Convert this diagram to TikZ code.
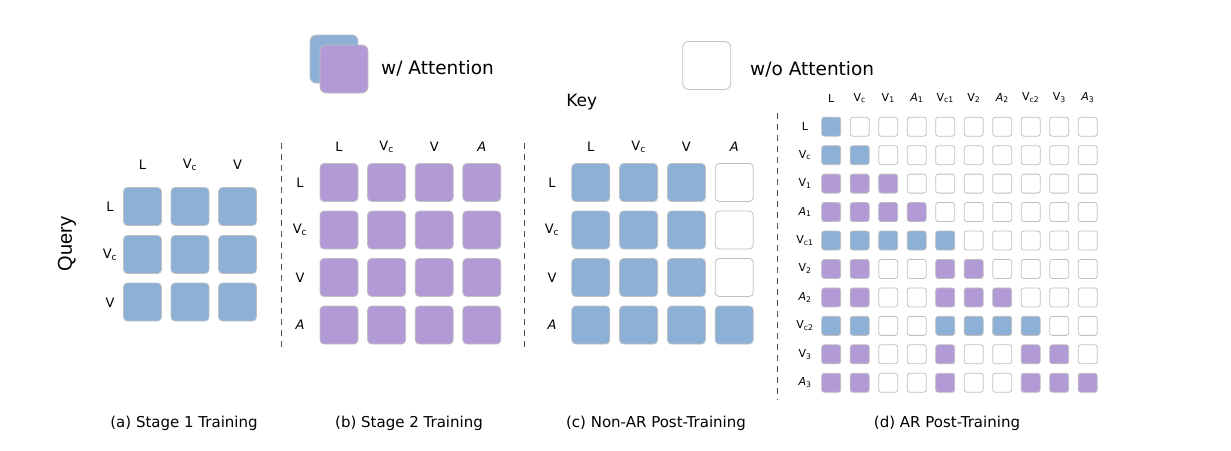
\documentclass[tikz,border=0pt]{standalone}
\usepackage{fontspec}
\setmainfont{DejaVu Sans}
\newfontfamily\queryfont{Liberation Sans}
\definecolor{attblue}{RGB}{141,176,214}
\definecolor{attpurple}{RGB}{178,154,214}
\definecolor{cellgray}{RGB}{192,192,192}
\tikzset{
  cell/.style={rectangle, rounded corners=4pt, draw=cellgray, line width=0.8pt,
    minimum size=38pt, inner sep=0pt},
  cellb/.style={cell, fill=attblue},
  cellp/.style={cell, fill=attpurple},
  cellw/.style={cell, fill=white},
  dcell/.style={minimum size=19pt, rounded corners=2.5pt},
  keybox/.style={cell, minimum size=48pt, rounded corners=6pt},
  lab/.style={font=\fontsize{13}{15}\selectfont, inner sep=0pt},
  slab/.style={font=\fontsize{11}{13}\selectfont, inner sep=0pt},
  legendtext/.style={font=\fontsize{18.5}{22}\selectfont, inner sep=0pt, anchor=west},
  captiontext/.style={font=\fontsize{15}{18}\selectfont, inner sep=0pt},
  sep/.style={draw=black!70, dash pattern=on 6pt off 5pt, line width=0.8pt}
}
\begin{document}
\begin{tikzpicture}[x=1pt, y=-1pt]
        \useasboundingbox (0,0) rectangle (1231,450);

        \node[keybox, fill=attblue]   (keyblue)   at (334,59)    {};
        \node[keybox, fill=attpurple] (keypurple) at (344,69)    {};
        \node[keybox, fill=white]     (keywhite)  at (706.7,65.5) {};
        \node[legendtext] (withatt) at (381,68) {w/ Attention};
        \node[legendtext] (noatt)   at (750,69) {w/o Attention};
        \node[font=\fontsize{17}{20}\selectfont, inner sep=0pt] (key) at (581.7,101.7) {Key};
        \node[font=\queryfont\fontsize{20}{24}\selectfont, rotate=90, inner sep=0pt] (query) at (67,244) {Query};

        \begin{scope}
          \foreach \y [count=\i] in {206.5,254.5,302}
            \foreach \x [count=\j] in {142.5,190,237.5}
              \node[cellb] (a-\i-\j) at (\x,\y) {};
          \foreach \t [count=\j] in {L, V\textsubscript{c}, V}
            \node[lab] (a-col-\j) at ({142.5+47.5*(\j-1)},165) {\t};
          \foreach \t [count=\i] in {L, V\textsubscript{c}, V}
            \node[lab] (a-row-\i) at (110,{206.5+48*(\i-1)}) {\t};
        \end{scope}

        \begin{scope}
          \foreach \i in {1,...,4}
            \foreach \j in {1,...,4}
              \node[cellp] (b-\i-\j) at ({339+47.6*(\j-1)},{182.5+47.5*(\i-1)}) {};
          \foreach \t [count=\j] in {L, V\textsubscript{c}, V, \textit{A}}
            \node[lab] (b-col-\j) at ({339+47.6*(\j-1)},147) {\t};
          \foreach \t [count=\i] in {L, V\textsubscript{c}, V, \textit{A}}
            \node[lab] (b-row-\i) at (300,{182.5+47.5*(\i-1)}) {\t};
        \end{scope}

        \begin{scope}
          \foreach \row [count=\i] in {{b,b,b,w},{b,b,b,w},{b,b,b,w},{b,b,b,b}}
            \foreach \c [count=\j] in \row
              \node[cell\c] (c-\i-\j) at ({590.8+47.8*(\j-1)},{182.5+47.5*(\i-1)}) {};
          \foreach \t [count=\j] in {L, V\textsubscript{c}, V, \textit{A}}
            \node[lab] (c-col-\j) at ({590.8+47.8*(\j-1)},147) {\t};
          \foreach \t [count=\i] in {L, V\textsubscript{c}, V, \textit{A}}
            \node[lab] (c-row-\i) at (552,{182.5+47.5*(\i-1)}) {\t};
        \end{scope}

        \begin{scope}
          \foreach \row [count=\i] in {
              {b,w,w,w,w,w,w,w,w,w},
              {b,b,w,w,w,w,w,w,w,w},
              {p,p,p,w,w,w,w,w,w,w},
              {p,p,p,p,w,w,w,w,w,w},
              {b,b,b,b,b,w,w,w,w,w},
              {p,p,w,w,p,p,w,w,w,w},
              {p,p,w,w,p,p,p,w,w,w},
              {b,b,w,w,b,b,b,b,w,w},
              {p,p,w,w,p,w,w,p,p,w},
              {p,p,w,w,p,w,w,p,p,p}}
            \foreach \c [count=\j] in \row
              \node[cell\c, dcell] (d-\i-\j) at ({831.2+28.5*(\j-1)},{126.7+28.45*(\i-1)}) {};
          \foreach \t [count=\j] in {L, V\textsubscript{c}, V\textsubscript{1}, \textit{A}\textsubscript{1},
              V\textsubscript{c1}, V\textsubscript{2}, \textit{A}\textsubscript{2}, V\textsubscript{c2},
              V\textsubscript{3}, \textit{A}\textsubscript{3}}
            \node[slab] (d-col-\j) at ({831.2+28.5*(\j-1)},98) {\t};
          \foreach \t [count=\i] in {L, V\textsubscript{c}, V\textsubscript{1}, \textit{A}\textsubscript{1},
              V\textsubscript{c1}, V\textsubscript{2}, \textit{A}\textsubscript{2}, V\textsubscript{c2},
              V\textsubscript{3}, \textit{A}\textsubscript{3}}
            \node[slab] (d-row-\i) at (805,{126.7+28.45*(\i-1)}) {\t};
        \end{scope}

        \coordinate (sep1top) at (281,143);
        \coordinate (sep1bot) at (281,350);
        \coordinate (sep2top) at (524,143);
        \coordinate (sep2bot) at (524,350);
        \coordinate (sep3top) at (777,113);
        \coordinate (sep3bot) at (777,400);
        \draw[sep] (sep1top) -- (sep1bot);
        \draw[sep] (sep2top) -- (sep2bot);
        \draw[sep] (sep3top) -- (sep3bot);

        \node[captiontext] (capa) at (184,423) {(a) Stage 1 Training};
        \node[captiontext] (capb) at (409,423) {(b) Stage 2 Training};
        \node[captiontext] (capc) at (656,423) {(c) Non-AR Post-Training};
        \node[captiontext] (capd) at (947,423) {(d) AR Post-Training};

      \end{tikzpicture}
\end{document}
